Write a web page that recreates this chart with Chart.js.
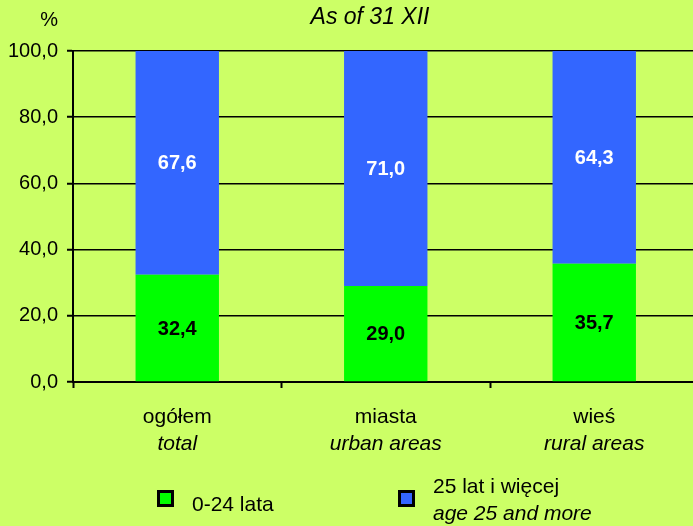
<!DOCTYPE html>
<html>
<head>
<meta charset="utf-8">
<script src="https://cdn.jsdelivr.net/npm/chart.js@4"></script>
<style>
  html, body { margin: 0; padding: 0; background: #ccff66; overflow: hidden; }
  canvas { display: block; }
</style>
</head>
<body>
<canvas id="myChart" width="700" height="526"></canvas>
<script>
// data
const categoriesPl = ["ogółem", "miasta", "wieś"];
const categoriesEn = ["total", "urban areas", "rural areas"];
const young = [32.4, 29.0, 35.7];
const older = [67.6, 71.0, 64.3];
const youngLabel = ["0-24 lata"];
const olderLabel = ["25 lat i więcej", "age 25 and more"];
const titleText = "As of 31 XII";
const unitText = "%";

const fontFamily = "'Liberation Sans', Arial, sans-serif";
const green = "#00ff00";
const blue = "#3366ff";

function fmt(v) {
  return v.toFixed(1).replace(".", ",");
}

// labels, title, x labels and legend drawn on top
const extraText = {
  id: "extraText",
  afterDatasetsDraw(chart) {
    const ctx = chart.ctx;
    ctx.save();
    ctx.font = "bold 20px " + fontFamily;
    ctx.textAlign = "center";
    ctx.textBaseline = "middle";
    chart.data.datasets.forEach((ds, di) => {
      const meta = chart.getDatasetMeta(di);
      meta.data.forEach((bar, i) => {
        ctx.fillStyle = di === 0 ? "#000" : "#fff";
        ctx.fillText(fmt(ds.data[i]), bar.x, (bar.y + bar.base) / 2 + 1);
      });
    });
    ctx.restore();
  },
  afterDraw(chart) {
    const ctx = chart.ctx;
    const xScale = chart.scales.x;
    ctx.save();
    ctx.fillStyle = "#000";
    ctx.textBaseline = "alphabetic";

    // title
    ctx.textAlign = "center";
    ctx.font = "italic 23px " + fontFamily;
    ctx.fillText(titleText, 370, 24);

    // unit
    ctx.textAlign = "right";
    ctx.font = "20px " + fontFamily;
    ctx.fillText(unitText, 58, 26);

    // category labels
    ctx.textAlign = "center";
    categoriesPl.forEach((c, i) => {
      const x = xScale.getPixelForValue(i);
      ctx.font = "21px " + fontFamily;
      ctx.fillText(c, x, 423);
      ctx.font = "italic 21px " + fontFamily;
      ctx.fillText(categoriesEn[i], x, 450);
    });

    // legend
    function box(x, y, color) {
      ctx.fillStyle = "#000";
      ctx.fillRect(x, y, 17, 17);
      ctx.fillStyle = color;
      ctx.fillRect(x + 3, y + 3, 11, 11);
    }
    ctx.textAlign = "left";
    box(157, 490, green);
    ctx.fillStyle = "#000";
    ctx.font = "21px " + fontFamily;
    ctx.fillText(youngLabel[0], 192, 511);

    box(398, 490, blue);
    ctx.fillStyle = "#000";
    ctx.font = "21px " + fontFamily;
    ctx.fillText(olderLabel[0], 433, 493);
    ctx.font = "italic 21px " + fontFamily;
    ctx.fillText(olderLabel[1], 433, 520);
    ctx.restore();
  },
};

function myLoadFunction() {
  const ctx = document.getElementById("myChart").getContext("2d");
  var myChartConfig = {
    type: "bar",
    data: {
      labels: categoriesPl,
      datasets: [
        {
          label: youngLabel.join(" "),
          data: young,
          backgroundColor: green,
          borderWidth: 0,
        },
        {
          label: olderLabel.join(" "),
          data: older,
          backgroundColor: blue,
          borderWidth: 0,
        },
      ],
    },
    options: {
      responsive: false,
      animation: false,
      devicePixelRatio: 1,
      layout: {
        padding: { left: 0, right: 1.5, top: 51, bottom: 0 },
      },
      datasets: {
        bar: { categoryPercentage: 1, barPercentage: 0.4 },
      },
      plugins: {
        legend: { display: false },
        title: { display: false },
        tooltip: { enabled: false },
      },
      scales: {
        x: {
          stacked: true,
          offset: true,
          afterFit(scale) {
            scale.height = 144;
          },
          ticks: { display: false },
          grid: {
            offset: true,
            drawOnChartArea: false,
            drawTicks: true,
            tickLength: 6,
            tickWidth: 2,
            tickColor: "#000",
          },
          border: { display: true, color: "#000", width: 2 },
        },
        y: {
          stacked: true,
          min: 0,
          max: 100,
          afterFit(scale) {
            scale.width = 73;
          },
          ticks: {
            stepSize: 20,
            padding: 9,
            color: "#000",
            font: { family: fontFamily, size: 20 },
            callback: (v) => fmt(v),
          },
          grid: {
            color: "#000",
            lineWidth: 1.5,
            drawTicks: true,
            tickLength: 6,
            tickColor: "#000",
            tickWidth: 2,
          },
          border: { display: true, color: "#000", width: 2 },
        },
      },
    },
    plugins: [extraText],
  };
  const myChart = new Chart(ctx, myChartConfig);
}

document.addEventListener("DOMContentLoaded", myLoadFunction);
</script>
</body>
</html>
